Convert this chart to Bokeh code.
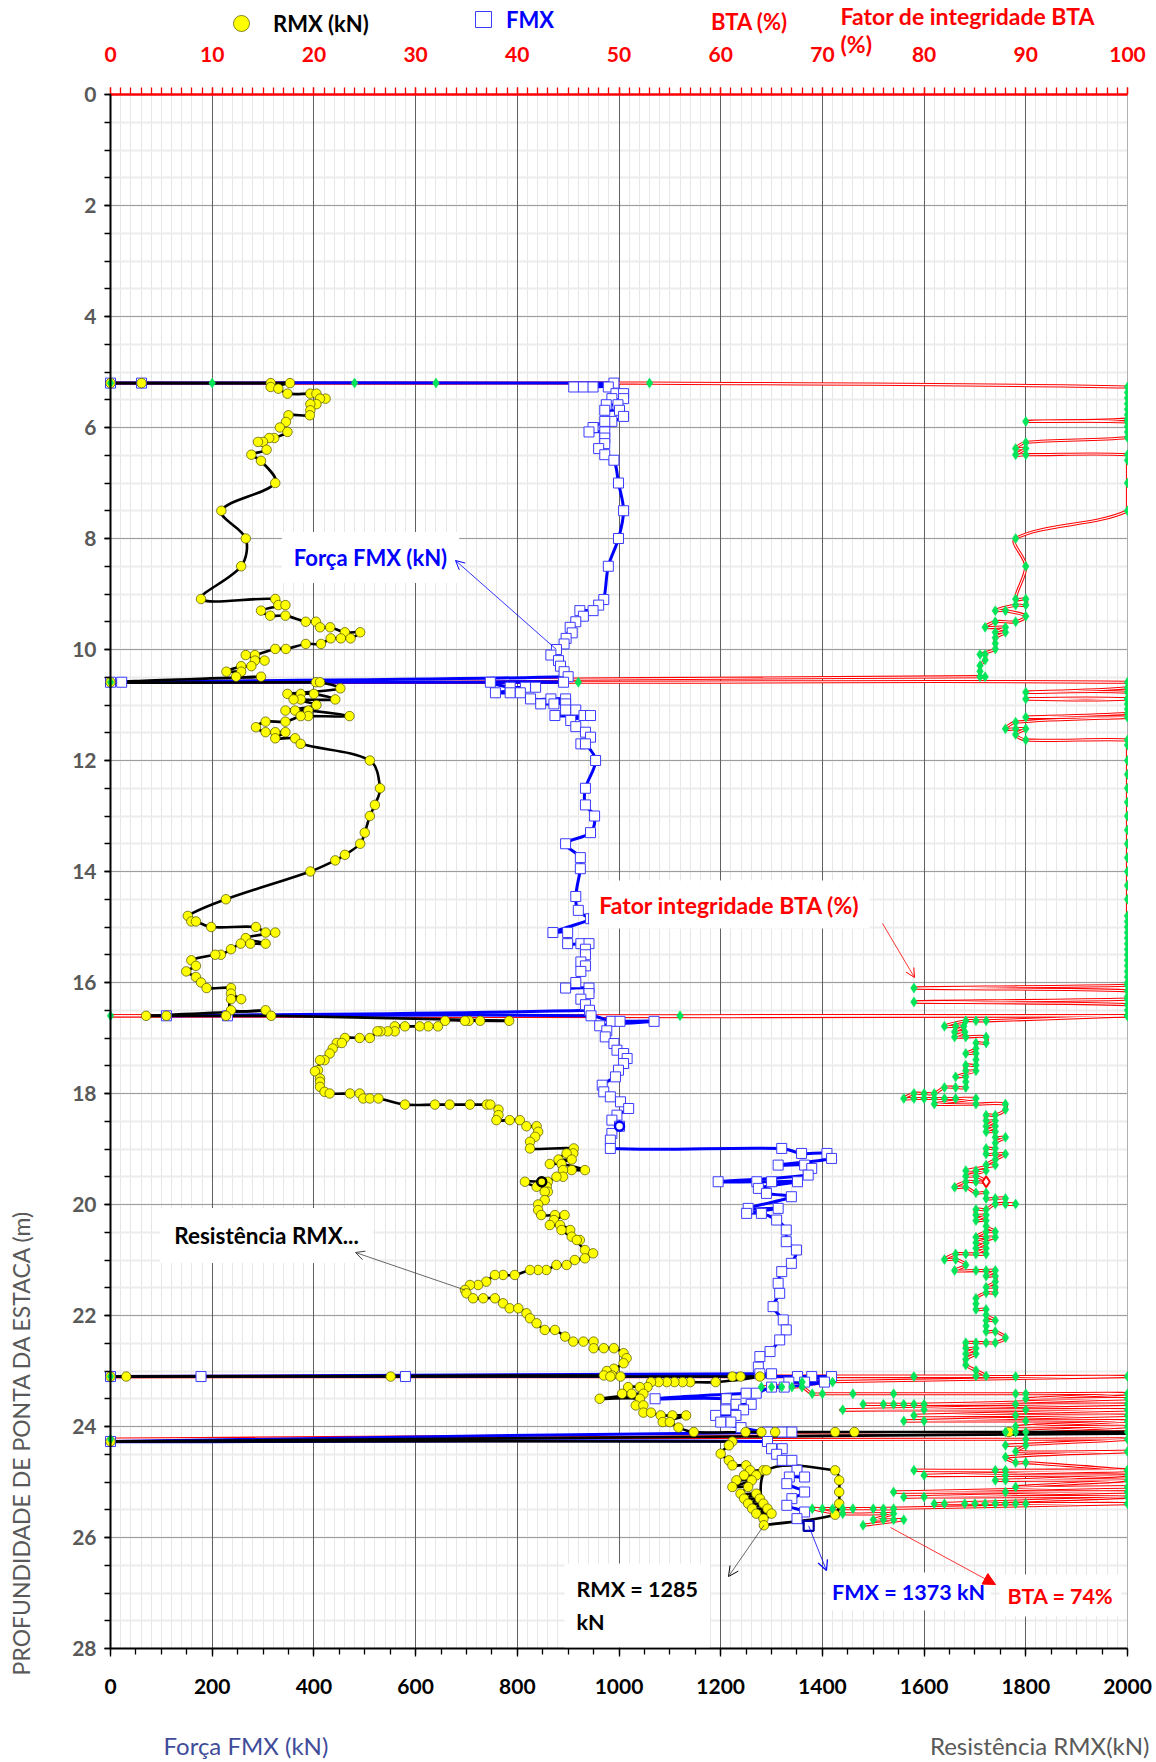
from math import pi, hypot
from bokeh.plotting import figure
from bokeh.models import (Range1d, LinearAxis, FixedTicker, Grid, BoxAnnotation,
                          Label, Arrow, OpenHead, NormalHead, Legend, LegendItem,
                          ColumnDataSource)
from bokeh.embed import file_html
from bokeh.resources import INLINE

# ---------------------------------------------------------------------------
# PDA readings along the pile tip depth (m)
# ---------------------------------------------------------------------------
# Resistance RMX (kN)
rmx_depth_m = [
    5.20, 5.20, 5.20, 5.20, 5.27, 5.30, 5.39, 5.39, 5.39, 5.48, 5.48, 5.58, 5.58, 5.69, 5.78, 5.78,
    5.90, 6.00, 6.08, 6.19, 6.19, 6.26, 6.26, 6.40, 6.49, 6.60, 7.00, 7.50, 8.00, 8.50,
    9.09, 9.09, 9.20, 9.20, 9.30, 9.39, 9.39, 9.50, 9.50, 9.60, 9.60, 9.69, 9.69, 9.80, 9.80, 9.80,
    9.90, 9.90, 9.99, 9.99, 10.10, 10.10, 10.20, 10.20, 10.30, 10.30, 10.40, 10.40, 10.49, 10.49,
    10.59, 10.59, 10.59, 10.70, 10.80, 10.80, 10.80, 10.90, 10.90, 10.90, 11.00, 11.10, 11.10, 11.10,
    11.20, 11.20, 11.20, 11.30, 11.30, 11.40, 11.49, 11.49, 11.49, 11.60, 11.60, 11.70,
    12.00, 12.50, 12.80, 13.00, 13.30, 13.50, 13.70, 13.80, 14.00, 14.50, 14.80, 14.90, 14.90,
    15.00, 15.00, 15.10, 15.10, 15.20, 15.30, 15.30, 15.30, 15.40, 15.50, 15.50, 15.60, 15.70, 15.80,
    15.90, 16.00, 16.10, 16.10, 16.20, 16.30, 16.30, 16.50, 16.50,
    16.60, 16.60, 16.60, 16.60, 16.69, 16.69, 16.69, 16.69, 16.69,
    16.79, 16.79, 16.79, 16.79, 16.79, 16.88, 16.88, 16.88, 16.88, 17.00, 17.00, 17.00, 17.09, 17.09,
    17.19, 17.28, 17.40, 17.40, 17.58, 17.60, 17.73, 17.79, 17.88, 17.97, 18.00, 18.00, 18.00,
    18.09, 18.09, 18.09, 18.20, 18.20, 18.20, 18.20, 18.20, 18.20, 18.29, 18.39, 18.48, 18.48, 18.48,
    18.59, 18.59, 18.69, 18.78, 18.87, 18.99, 18.99, 19.08, 19.08, 19.19, 19.19, 19.27, 19.27,
    19.38, 19.38, 19.38, 19.50, 19.50, 19.59, 19.59, 19.59, 19.68, 19.68, 19.77, 19.77, 19.92, 20.00, 20.10,
    20.19, 20.19, 20.19, 20.28, 20.37, 20.37, 20.46, 20.46, 20.58, 20.64, 20.64, 20.82, 20.88, 20.97,
    21.00, 21.09, 21.09, 21.18, 21.18, 21.18, 21.27, 21.27, 21.27, 21.39, 21.45, 21.45, 21.54, 21.60,
    21.69, 21.69, 21.69, 21.78, 21.87, 21.87, 21.96, 22.05, 22.14, 22.26, 22.26, 22.38,
    22.47, 22.47, 22.47, 22.59, 22.59, 22.59, 22.68, 22.77, 22.86, 22.96, 23.00, 23.08, 23.08,
    23.10, 23.10, 23.10, 23.10, 23.10, 23.10, 23.10, 23.10,
    23.20, 23.20, 23.20, 23.20, 23.20, 23.20, 23.20, 23.29, 23.29, 23.29, 23.41, 23.41, 23.41,
    23.50, 23.50, 23.62, 23.62, 23.75, 23.75, 23.80, 23.80, 23.80, 23.92, 23.92, 24.02,
    24.10, 24.10, 24.10, 24.10, 24.10, 24.10, 24.10, 24.10,
    24.27, 24.27, 24.34, 24.49, 24.61, 24.70, 24.70, 24.79, 24.79, 24.88, 24.88, 24.97, 24.97,
    25.09, 25.09, 25.21, 25.21, 25.30, 25.30, 25.39, 25.39, 25.48, 25.48, 25.57, 25.57, 25.66,
    24.79, 24.79, 24.97, 25.18, 25.39, 25.59, 25.78,
]
rmx_kn = [
    0, 61, 315, 353, 315, 330, 348, 393, 405, 423, 412, 405, 393, 393, 392, 350,
    345, 333, 348, 322, 312, 300, 290, 307, 277, 296, 324, 218, 266, 257,
    178, 324, 330, 344, 296, 314, 344, 384, 404, 412, 432, 461, 491, 472, 453, 433,
    414, 384, 345, 324, 284, 266, 303, 284, 277, 257, 228, 257, 247, 296,
    0, 404, 412, 452, 348, 374, 400, 442, 374, 360, 405, 344, 363, 389,
    470, 389, 374, 344, 305, 286, 305, 324, 344, 324, 363, 374,
    510, 530, 520, 510, 500, 491, 461, 442, 393, 227, 152, 159, 168,
    198, 286, 305, 324, 266, 305, 275, 256, 237, 217, 206, 159, 168, 149,
    168, 178, 189, 237, 237, 257, 237, 237, 305,
    70, 110, 227, 316, 784, 727, 705, 697, 658,
    644, 625, 608, 579, 559, 559, 545, 531, 525, 510, 490, 461, 445, 455,
    437, 431, 421, 412, 408, 402, 412, 412, 412, 421, 431, 471, 490,
    497, 510, 527, 579, 638, 667, 707, 740, 747, 763, 763, 759, 785, 805,
    818, 838, 841, 835, 825, 825, 911, 910, 897, 881, 907, 864, 887,
    933, 907, 890, 890, 877, 860, 848, 815, 838, 858, 860, 854, 854, 841, 841,
    847, 874, 893, 872, 864, 884, 904, 887, 907, 923, 917, 933, 949, 933,
    913, 897, 877, 857, 841, 825, 795, 772, 756, 739, 723, 707, 697, 700,
    713, 733, 756, 772, 785, 802, 818, 825, 838, 854, 874, 894,
    910, 930, 950, 950, 970, 990, 1009, 1015, 1009, 990, 976, 970, 986,
    0, 31, 551, 983, 1003, 1223, 1239, 1277,
    1190, 1140, 1125, 1109, 1094, 1078, 1063, 1056, 1041, 1018, 1006, 1025, 1048,
    962, 1041, 1033, 1048, 1048, 1063, 1082, 1105, 1132, 1086, 1100, 1117,
    1147, 1249, 1280, 1307, 1425, 1463, 1767, 2400,
    0, 1223, 1216, 1200, 1216, 1223, 1250, 1258, 1284, 1246, 1270, 1231, 1261,
    1223, 1254, 1239, 1270, 1246, 1277, 1254, 1284, 1262, 1292, 1270, 1300, 1284,
    1290, 1425, 1433, 1433, 1433, 1425, 1285,
]

# Force FMX (kN)
fmx_depth_m = [
    5.20, 5.20, 5.20, 5.27, 5.27, 5.27, 5.27, 5.39, 5.39, 5.48, 5.48, 5.59, 5.59, 5.69, 5.69, 5.80,
    5.89, 5.89, 6.00, 6.08, 6.08, 6.19, 6.29, 6.38, 6.49, 6.59, 7.00, 7.50, 8.00, 8.50,
    9.10, 9.20, 9.30, 9.30, 9.40, 9.50, 9.60, 9.70, 9.80, 9.90, 10.00, 10.10, 10.20, 10.30, 10.40, 10.49,
    10.59, 10.59, 10.59, 10.59, 10.68, 10.68, 10.68, 10.78, 10.78, 10.78, 10.89, 10.89, 10.89,
    10.98, 10.98, 10.98, 11.09, 11.09, 11.19, 11.19, 11.19, 11.28, 11.39, 11.49, 11.58, 11.70, 11.70,
    12.00, 12.50, 12.80, 13.00, 13.30, 13.50, 13.75, 13.95, 14.45, 14.70, 14.85, 14.85,
    15.10, 15.10, 15.30, 15.30, 15.30, 15.40, 15.50, 15.63, 15.70, 15.80, 16.00, 16.10, 16.10, 16.20, 16.30, 16.40, 16.50,
    16.60, 16.60, 16.60, 16.70, 16.70, 16.70, 16.78, 16.87, 16.98, 17.10, 17.22, 17.28, 17.37, 17.46,
    17.58, 17.70, 17.85, 17.97, 18.06, 18.15, 18.27, 18.39, 18.48, 18.59, 18.72, 18.84, 18.99, 18.99,
    19.08, 19.08, 19.17, 19.29, 19.29, 19.35, 19.47, 19.59, 19.59, 19.59, 19.59, 19.71, 19.80, 19.86,
    20.07, 20.07, 20.16, 20.16, 20.28, 20.46, 20.67, 20.82, 21.06, 21.21, 21.42, 21.60, 21.84, 22.08,
    22.26, 22.44, 22.65, 22.74, 22.93, 23.05, 23.05,
    23.10, 23.10, 23.10, 23.10, 23.10, 23.10, 23.20, 23.20, 23.20, 23.29, 23.29, 23.40, 23.40,
    23.50, 23.50, 23.60, 23.60, 23.70, 23.70, 23.80, 23.80, 23.92, 23.92, 24.02, 24.10, 24.10, 24.10,
    24.27, 24.27, 24.40, 24.40, 24.50, 24.61, 24.61, 24.79, 24.91, 24.91, 25.03, 25.18, 25.30, 25.42, 25.54, 25.66, 25.79,
]
fmx_kn = [
    0, 61, 990, 911, 930, 949, 979, 994, 1009, 986, 1009, 998, 975, 972, 1001, 1009,
    986, 972, 949, 941, 972, 972, 972, 960, 972, 990, 999, 1009, 999, 979,
    970, 960, 949, 923, 930, 915, 904, 908, 896, 892, 877, 866, 881, 885, 892, 900,
    0, 22, 891, 747, 786, 816, 836, 757, 786, 806, 826, 866, 895,
    846, 872, 895, 895, 915, 874, 931, 944, 905, 915, 934, 944, 925, 934,
    954, 934, 934, 952, 944, 895, 924, 924, 915, 920, 944, 950,
    870, 899, 899, 925, 941, 934, 934, 925, 934, 925, 915, 895, 941, 941, 925, 934, 942,
    110, 230, 945, 985, 1002, 1069, 962, 976, 973, 990, 996, 1009, 1016, 1009,
    999, 993, 967, 970, 983, 1003, 1019, 996, 986, 1001, 986, 983, 983, 1320,
    1359, 1409, 1418, 1313, 1365, 1379, 1372, 1195, 1271, 1300, 1351, 1274, 1290, 1339,
    1254, 1313, 1251, 1280, 1310, 1329, 1329, 1349, 1339, 1320, 1313, 1316, 1303, 1323,
    1329, 1316, 1297, 1277, 1274, 1277, 1300,
    0, 178, 580, 1351, 1379, 1418, 1334, 1365, 1404, 1325, 1300, 1270, 1250,
    1071, 1211, 1230, 1260, 1210, 1245, 1190, 1230, 1220, 1200, 1240, 1292, 1321, 1340,
    0, 1292, 1300, 1321, 1310, 1321, 1340, 1350, 1365, 1335, 1330, 1365, 1340, 1330, 1365, 1350, 1373,
]

# Integrity factor BTA (%)
bta_depth_m = [
    5.20, 5.20, 5.20, 5.20, 5.20, 5.27, 5.37, 5.47, 5.57, 5.67, 5.77, 5.85, 5.89, 5.90, 5.98, 6.08, 6.18,
    6.27, 6.38, 6.38, 6.49, 6.49, 6.49, 6.59, 7.00, 7.50, 8.00, 8.50, 9.09, 9.09,
    9.20, 9.20, 9.30, 9.30, 9.40, 9.50, 9.50, 9.60, 9.60, 9.69, 9.69, 9.79, 9.89, 9.99,
    10.09, 10.09, 10.19, 10.29, 10.39, 10.49, 10.49,
    10.59, 10.59, 10.59, 10.69, 10.77, 10.77, 10.89, 10.89, 10.89, 10.98, 11.07, 11.15, 11.22, 11.22,
    11.31, 11.43, 11.43, 11.43, 11.53, 11.63, 11.63, 11.72, 12.00, 12.25, 12.50, 12.75, 13.00, 13.25,
    13.50, 13.75, 14.00, 14.25, 14.50, 14.80, 14.90, 15.00, 15.10, 15.20, 15.30, 15.40, 15.50, 15.60,
    15.70, 15.80, 15.90, 16.00, 16.05, 16.10, 16.15, 16.25, 16.30, 16.35, 16.40, 16.50, 16.60, 16.60, 16.60,
    16.60, 16.69, 16.69, 16.69, 16.79, 16.79, 16.79, 16.89, 16.89, 16.98, 16.98, 16.98, 17.09, 17.09,
    17.19, 17.28, 17.28, 17.39, 17.49, 17.49, 17.59, 17.59, 17.70, 17.70, 17.79, 17.89, 17.89, 17.89,
    18.00, 18.00, 18.00, 18.09, 18.09, 18.09, 18.09, 18.09, 18.09, 18.09, 18.19, 18.19, 18.19, 18.29,
    18.39, 18.39, 18.49, 18.49, 18.59, 18.59, 18.69, 18.69, 18.79, 18.79, 18.89, 18.99, 18.99,
    19.09, 19.09, 19.09, 19.19, 19.29, 19.29, 19.39, 19.39, 19.39, 19.49, 19.49, 19.59, 19.59, 19.59,
    19.69, 19.69, 19.79, 19.79, 19.89, 19.89, 19.89, 19.99, 19.99, 19.99, 20.09, 20.09, 20.19, 20.19,
    20.29, 20.29, 20.39, 20.49, 20.49, 20.59, 20.59, 20.59, 20.69, 20.69, 20.79, 20.79, 20.89, 20.89, 20.89, 20.89,
    20.99, 20.99, 21.09, 21.19, 21.19, 21.19, 21.19, 21.29, 21.29, 21.39, 21.49, 21.49, 21.59, 21.59,
    21.69, 21.79, 21.89, 21.89, 21.99, 22.09, 22.09, 22.19, 22.29, 22.29, 22.40, 22.49, 22.49, 22.49, 22.49,
    22.59, 22.59, 22.69, 22.69, 22.79, 22.89, 22.99, 23.09, 23.09,
    23.10, 23.10, 23.10, 23.10, 23.20, 23.20, 23.29, 23.29, 23.29, 23.29, 23.29, 23.41, 23.41, 23.41, 23.41, 23.41, 23.41, 23.41,
    23.50, 23.50, 23.60, 23.60, 23.60, 23.60, 23.60, 23.60, 23.60, 23.60, 23.70, 23.70, 23.70, 23.70,
    23.80, 23.80, 23.80, 23.90, 23.90, 23.90, 23.90, 24.00, 24.00, 24.10, 24.10, 24.10, 24.10,
    24.23, 24.23, 24.23, 24.34, 24.34, 24.45, 24.45, 24.55, 24.65, 24.65,
    24.79, 24.79, 24.79, 24.79, 24.79, 24.88, 24.88, 24.88, 24.97, 24.97, 24.97, 25.09, 25.09,
    25.18, 25.18, 25.18, 25.27, 25.27, 25.27, 25.39, 25.39, 25.39, 25.39, 25.39, 25.39, 25.39, 25.39, 25.39, 25.39,
    25.48, 25.48, 25.48, 25.48, 25.48, 25.48, 25.48, 25.48, 25.57, 25.57, 25.57, 25.68, 25.68, 25.68, 25.68, 25.78,
]
bta_pct = [
    0, 10, 24, 32, 53, 100, 100, 100, 100, 100, 100, 100, 90, 100, 100, 100, 100,
    90, 89, 90, 89, 90, 100, 100, 100, 100, 89, 90, 89, 90,
    90, 89, 87, 88, 90, 89, 87, 86, 88, 87, 88, 87, 87, 87,
    85.5, 86, 86, 85.5, 85.5, 85.5, 86,
    0, 46, 100, 100, 90, 100, 100, 90, 100, 100, 100, 100, 90, 100,
    89, 88, 89, 90, 89, 90, 100, 100, 100, 100, 100, 100, 100, 100,
    100, 100, 100, 100, 100, 100, 100, 100, 100, 100, 100, 100, 100, 100,
    100, 100, 100, 100, 100, 79, 100, 100, 100, 79, 100, 100, 100, 0, 56,
    100, 86.1, 85.1, 84.1, 82, 83.1, 83.9, 83, 84, 83, 84.1, 86.1, 86.1, 85.1,
    85.1, 84.1, 85.1, 85.1, 85.1, 84.1, 84.1, 85.1, 83.1, 84.1, 84.1, 84.1, 83.1, 82,
    81, 80, 79, 78, 79, 80, 81, 82, 83.1, 85.1, 81, 85.1, 88, 88,
    87, 86.1, 86.1, 87, 86.1, 87, 86.1, 87, 87, 88, 87, 87, 86.1,
    86.1, 87, 88, 87, 86.1, 87, 84.1, 85.1, 86.1, 84.1, 85.1, 86.1, 85.1, 84.1,
    83, 84.1, 85.1, 86.1, 86.1, 87, 88, 88, 89, 87, 86.1, 85.1, 85.1, 86.1,
    85.1, 86.1, 86.1, 87, 86.1, 85.1, 86.1, 87, 85.1, 86.1, 85.1, 86.1, 85.1, 86.1, 84.1, 83.1,
    82, 83.1, 84.1, 83, 85.1, 86.1, 87, 86.1, 87, 87, 86.1, 87, 87, 86.1,
    85.1, 85.1, 85.1, 86.1, 86.1, 87, 86.1, 86.1, 86.1, 87, 88, 87, 86.1, 85.1, 84.1,
    84.1, 85.1, 84.1, 85.1, 84.1, 84.1, 85.1, 86.1, 85.1,
    0, 79, 89, 100, 68, 71, 64, 65, 66, 67, 68, 69, 70, 73, 77, 89, 90, 100,
    90, 100, 80, 74, 76, 77, 78, 79, 89, 100, 72, 80, 90, 100,
    79, 89, 100, 78, 80, 90, 100, 89, 100, 88, 89, 90, 100,
    0, 90, 100, 88, 90, 89, 100, 88, 89, 90,
    100, 79, 87, 88, 100, 80, 88, 100, 88, 87, 100, 89, 100,
    77, 88, 100, 78, 80, 100, 81, 82, 84, 85, 86, 87, 88, 89, 90, 100,
    75, 76, 77, 73, 72, 71, 70, 69, 72, 76, 77, 75, 76, 77, 78, 74,
]

# Readings picked out on the traces
rmx_marked_depth_m, rmx_marked_kn = [19.59], [848]
fmx_marked_depth_m, fmx_marked_kn = [18.59], [1001]
bta_marked_depth_m, bta_marked_pct = [19.59], [86.1]

# Axis tick values
depth_ticks_m = list(range(0, 29, 2))
depth_minor_m = [i * 0.5 for i in range(57)]
force_ticks_kn = list(range(0, 2001, 200))
force_minor_kn = list(range(0, 2001, 50))
bta_ticks_pct = list(range(0, 101, 10))
bta_minor_pct = list(range(0, 101))

# ---------------------------------------------------------------------------
FONT = "Lato"
RED = "#ff0000"
BLUE = "#0000ff"
GREY = "#595959"

W, H = 1156, 1762
PLOT_L, PLOT_R, PLOT_T, PLOT_B = 110, 1127, 94, 1648          # plotting area, px
KN_PX = (PLOT_R - PLOT_L) / 2000.0
M_PX = (PLOT_B - PLOT_T) / 28.0
PCT_PX = (PLOT_R - PLOT_L) / 100.0


def kn_at(cx):
    return (cx - PLOT_L) / KN_PX


def m_at(cy):
    return (cy - PLOT_T) / M_PX


# the frame spans the whole page; axes are pinned to the plotting-area edges
p = figure(width=W, height=H, output_backend="svg", toolbar_location=None,
           x_range=Range1d(kn_at(0), kn_at(W)), y_range=Range1d(m_at(H), m_at(0)),
           x_axis_type=None, y_axis_type=None,
           min_border=0, min_border_left=0, min_border_right=0, min_border_top=0,
           min_border_bottom=0, background_fill_color="white", border_fill_color="white")
p.outline_line_color = None
p.extra_x_ranges = {"bta": Range1d(-PLOT_L / PCT_PX, 100 + (W - PLOT_R) / PCT_PX)}

# grids
has_cross = "cross_bounds" in Grid.properties()


def grid(dim, ticks, color, width, minor=None, minor_color=None, minor_width=1):
    g = Grid(dimension=dim, ticker=FixedTicker(ticks=ticks, minor_ticks=minor or []),
             grid_line_color=color, grid_line_width=width,
             minor_grid_line_color=minor_color, minor_grid_line_width=minor_width)
    if has_cross:
        g.cross_bounds = (0, 28) if dim == 0 else (0, 2000)
    p.add_layout(g)


grid(0, [v for v in range(20, 2000, 20) if v % 200], "#e6e6e6", 1)
grid(1, depth_ticks_m, "#9d9d9d", 1, depth_minor_m, "#ececec", 2)
grid(0, force_ticks_kn, "#606060", 1)

# white margins around the plotting area
for kw in (dict(right=0), dict(left=2000), dict(bottom=0), dict(top=28)):
    p.add_layout(BoxAnnotation(fill_color="white", fill_alpha=1, line_alpha=0,
                               level="underlay", **kw))


def style_axis(ax, color, label_color, tick_out, minor_out, standoff, width=2):
    ax.axis_line_color = color
    ax.axis_line_width = width
    ax.major_tick_line_color = color
    ax.minor_tick_line_color = color
    ax.major_tick_line_width = 1.3
    ax.minor_tick_line_width = 1.3
    ax.major_tick_in = 0
    ax.minor_tick_in = 0
    ax.major_tick_out = tick_out
    ax.minor_tick_out = minor_out
    ax.major_label_standoff = standoff
    ax.major_label_text_font = FONT
    ax.major_label_text_font_style = "bold"
    ax.major_label_text_font_size = "21px"
    ax.major_label_text_color = label_color


xa = LinearAxis(fixed_location=28, bounds=(0, 2000),
                ticker=FixedTicker(ticks=force_ticks_kn, minor_ticks=force_minor_kn))
style_axis(xa, "black", "black", 8, 6, 22)
p.add_layout(xa, "below")

ya = LinearAxis(fixed_location=0, bounds=(0, 28),
                ticker=FixedTicker(ticks=depth_ticks_m, minor_ticks=depth_minor_m))
style_axis(ya, "black", GREY, 6, 6, 8)
p.add_layout(ya, "left")

ta = LinearAxis(x_range_name="bta", fixed_location=0, bounds=(0, 100),
                ticker=FixedTicker(ticks=bta_ticks_pct, minor_ticks=bta_minor_pct))
style_axis(ta, RED, RED, 7, 7, 26, width=2.5)
p.add_layout(ta, "above")


def smoothed(xs, ys, x_px, lo, hi):
    """Bezier pieces of a smoothed polyline through every reading.

    Tangents follow the neighbouring readings and are scaled by the segment
    lengths on screen, so short hops next to long runs do not overshoot.
    """
    n = len(xs)
    px = [x * x_px for x in xs]
    py = [y * M_PX for y in ys]

    def dist(i, j):
        if i < 0 or j >= n:
            return 0.0
        return hypot(px[j] - px[i], py[j] - py[i])

    def tangent(i):
        a, b = max(i - 1, 0), min(i + 1, n - 1)
        return px[b] - px[a], py[b] - py[a]

    seg = dict(x0=[], y0=[], x1=[], y1=[], cx0=[], cy0=[], cx1=[], cy1=[])
    for i in range(n - 1):
        d_prev, d_cur, d_next = dist(i - 1, i), dist(i, i + 1), dist(i + 1, i + 2)
        f0 = d_cur / (d_prev + d_cur) / 3.0 if d_prev + d_cur > 0 else 0.0
        f1 = d_cur / (d_cur + d_next) / 3.0 if d_cur + d_next > 0 else 0.0
        t0x, t0y = tangent(i)
        t1x, t1y = tangent(i + 1)
        seg["x0"].append(xs[i])
        seg["y0"].append(ys[i])
        seg["x1"].append(xs[i + 1])
        seg["y1"].append(ys[i + 1])
        seg["cx0"].append(min(hi, max(lo, (px[i] + t0x * f0) / x_px)))
        seg["cy0"].append((py[i] + t0y * f0) / M_PX)
        seg["cx1"].append(min(hi, max(lo, (px[i + 1] - t1x * f1) / x_px)))
        seg["cy1"].append((py[i + 1] - t1y * f1) / M_PX)
    return ColumnDataSource(seg)


BEZ = dict(x0="x0", y0="y0", x1="x1", y1="y1", cx0="cx0", cy0="cy0", cx1="cx1", cy1="cy1")

rmx_src = ColumnDataSource(dict(depth=rmx_depth_m, kn=rmx_kn))
fmx_src = ColumnDataSource(dict(depth=fmx_depth_m, kn=fmx_kn))
bta_src = ColumnDataSource(dict(depth=bta_depth_m, pct=bta_pct))
bta_curve = smoothed(bta_pct, bta_depth_m, PCT_PX, 0, 100)
fmx_curve = smoothed(fmx_kn, fmx_depth_m, KN_PX, 0, 2000)
rmx_curve = smoothed(rmx_kn, rmx_depth_m, KN_PX, 0, 2400)

# smoothed traces: BTA (double red line), FMX, RMX
p.bezier(source=bta_curve, x_range_name="bta", line_color=RED, line_width=3.2,
         line_cap="round", **BEZ)
p.bezier(source=bta_curve, x_range_name="bta", line_color="white", line_width=1.1, **BEZ)
p.bezier(source=fmx_curve, line_color=BLUE, line_width=3, line_cap="round", **BEZ)
p.bezier(source=rmx_curve, line_color="black", line_width=2.6, line_cap="round", **BEZ)

fmx_pts = p.scatter("kn", "depth", source=fmx_src, marker="square", size=10,
                    fill_color="white", line_color="#3b3bff", line_width=1)
rmx_pts = p.scatter("kn", "depth", source=rmx_src, marker="circle", size=9.5,
                    fill_color="#ffff00", line_color="#4d4d00", line_width=0.7)
p.scatter("pct", "depth", source=bta_src, x_range_name="bta", marker="diamond", size=10,
          fill_color="#00e658", line_color="#00e658", line_width=0.5)

# highlighted readings
p.scatter(rmx_marked_kn, rmx_marked_depth_m, marker="circle", size=9, fill_color="#ffff00",
          line_color="black", line_width=2.5)
p.scatter(fmx_marked_kn, fmx_marked_depth_m, marker="circle", size=9, fill_color="white",
          line_color=BLUE, line_width=2.5)
p.scatter(bta_marked_pct, bta_marked_depth_m, x_range_name="bta", marker="diamond", size=11,
          fill_color="white", line_color=RED, line_width=2)
p.scatter(fmx_kn[-1:], fmx_depth_m[-1:], marker="square", size=10, fill_color="white",
          line_color="#0000aa", line_width=2.2)

# keep the trace that runs past 2000 kN inside the plotting area
p.add_layout(BoxAnnotation(left=2001, top=0, bottom=28, fill_color="white", fill_alpha=1,
                           line_alpha=0, level="annotation"))

# legend entries across the top
bta_key = p.scatter([], [], x_range_name="bta", marker="diamond", size=10,
                    fill_color="#00e658", line_color=RED, line_width=1.5)
KEY = 40


def add_key(renderer, text, color, gx, gy, standoff):
    lg = Legend(items=[LegendItem(label=text, renderers=[renderer])],
                location=(gx - KEY / 2, H - gy - KEY / 2), orientation="horizontal",
                glyph_width=KEY, glyph_height=KEY, label_standoff=standoff, label_height=KEY,
                padding=0, margin=0, spacing=0, border_line_color=None,
                background_fill_alpha=0, label_text_font=FONT, label_text_font_style="bold",
                label_text_font_size="22px", label_text_color=color)
    p.add_layout(lg, "center")


add_key(rmx_pts, "RMX (kN)", "black", 241, 23, 12)
add_key(fmx_pts, "FMX", BLUE, 483, 19, 3)
add_key(bta_key, "BTA (%)", RED, 682, 21, 9)


def text(t, cx, cy, color, size="22px", style="bold", align="center", baseline="middle",
         angle=0.0, box=False, pad=8, line_height=1.2):
    lab = Label(x=kn_at(cx), y=m_at(cy), text=t, text_color=color, text_font=FONT,
                text_font_style=style, text_font_size=size, text_align=align,
                text_baseline=baseline, angle=angle, text_line_height=line_height)
    if box:
        lab.background_fill_color = "white"
        lab.padding = pad
    p.add_layout(lab)


text("Fator de integridade BTA\n(%)", 840, 1, RED, size="23px", align="left", baseline="top",
     line_height=1.0)

# callouts
text("Força FMX (kN)", 370, 557, BLUE, box=True, pad=12)
text("Resistência RMX...", 266, 1235, "black", size="22.5px", box=True, pad=14)
text("Fator integridade BTA (%)", 729, 904, RED, size="23px", box=True, pad=10)
text(f"RMX = {rmx_kn[-1]}\nkN", 564, 1563, "black", size="21.5px", align="left",
     baseline="top", box=True, pad=12, line_height=1.3)
text(f"FMX = {fmx_kn[-1]} kN", 908, 1591, BLUE, size="21.5px", box=True, pad=6)
text(f"BTA = {int(bta_pct[-1])}%", 1060, 1595, RED, size="21.5px", box=True, pad=8)

p.add_layout(Arrow(end=OpenHead(size=9, line_color=BLUE, line_width=1),
                   x_start=fmx_kn[40], y_start=fmx_depth_m[40], x_end=kn_at(455), y_end=m_at(560),
                   line_color=BLUE, line_width=0.8))
p.add_layout(Arrow(end=OpenHead(size=9, line_color="#404040", line_width=1),
                   x_start=697, y_start=21.54, x_end=kn_at(355), y_end=m_at(1252),
                   line_color="#404040", line_width=0.8))
p.add_layout(Arrow(end=OpenHead(size=9, line_color=RED, line_width=1),
                   x_start=kn_at(882), y_start=m_at(923), x_end=kn_at(914), y_end=m_at(977),
                   line_color=RED, line_width=0.8))
p.add_layout(Arrow(end=OpenHead(size=10, line_color="black", line_width=1),
                   x_start=rmx_kn[-1], y_start=rmx_depth_m[-1], x_end=kn_at(728), y_end=m_at(1576),
                   line_color="#404040", line_width=0.8))
p.add_layout(Arrow(end=OpenHead(size=10, line_color=BLUE, line_width=1.2),
                   x_start=fmx_kn[-1], y_start=fmx_depth_m[-1], x_end=kn_at(826), y_end=m_at(1570),
                   line_color=BLUE, line_width=0.8))
p.add_layout(Arrow(end=NormalHead(size=12, fill_color=RED, line_color=RED),
                   x_start=kn_at(890), y_start=m_at(1527), x_end=kn_at(995), y_end=m_at(1584),
                   line_color=RED, line_width=0.8))

# axis titles
text("PROFUNDIDADE DE PONTA DA ESTACA (m)", 20, 1442, GREY, size="23px", style="normal",
     angle=pi / 2)
text("Força FMX (kN)", 163, 1745, "#3f4c9a", size="24px", style="normal", align="left")
text("Resistência RMX(kN)", 1149, 1745, GREY, size="24px", style="normal", align="right")

open("out.html", "w").write(file_html(p, INLINE))
